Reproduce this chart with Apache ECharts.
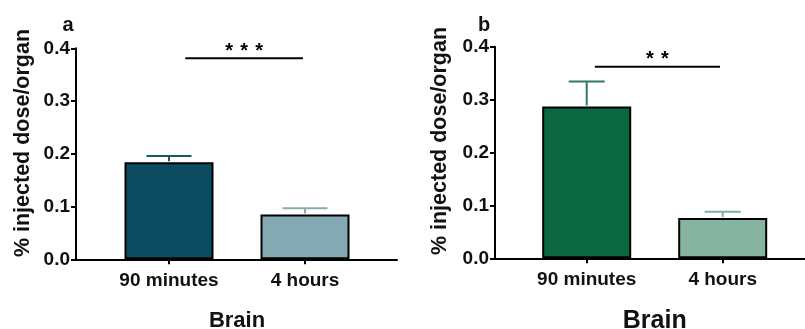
<!DOCTYPE html>
<html>
<head>
<meta charset="utf-8">
<script src="https://cdn.jsdelivr.net/npm/echarts@6/dist/echarts.min.js"></script>
<style>html,body{margin:0;padding:0;background:#fff}#c{width:805px;height:329px}</style>
</head>
<body>
<div id="c"></div>
<script>
// ---- data ----
const categories = ['90 minutes', '4 hours'];
const yTickMin = 0, yTickMax = 0.4, yTickStep = 0.1;
const meanA = [0.184, 0.085];
const semA = [0.012, 0.012];
const meanB = [0.287, 0.076];
const semB = [0.047, 0.012];
const sigSpanA = [0.12, 0.985];
const sigYA = 0.381;
const sigStarsA = 3;
const sigSpanB = [0.06, 0.98];
const sigYB = 0.362;
const sigStarsB = 2;
const yTitle = '% injected dose/organ';
const xTitle = 'Brain';
const panelLetters = ['a', 'b'];

// ---- styles ----
const FONT = '"Liberation Sans", Arial, Helvetica, sans-serif';
const barColorsA = ['#0c4c62', '#85a9b2'];
const errColorsA = ['#1b5967', '#8aaab3'];
const barColorsB = ['#0b6741', '#86b4a1'];
const errColorsB = ['#2c7b5f', '#7db09b'];

const layout = {
  a: {axisLeft: 76, axisWidth: 321, top: 48.3, height: 211, barLeft: 101, capW: 45, titleX: 23, titleY: 143, letterX: 68, xNameSize: 22, xNameGap: 51},
  b: {axisLeft: 495, axisWidth: 310, top: 46.7, height: 211.6, barLeft: 518.7, capW: 36, titleX: 440, titleY: 141, letterX: 484, xNameSize: 25, xNameGap: 50}
};

function errRender(colors, capW) {
  return function (params, api) {
    const i = api.value(0), m = api.value(1), e = api.value(2);
    const top = api.coord([i, m + e]);
    const base = api.coord([i, m]);
    const st = {stroke: colors[params.dataIndex], lineWidth: 2};
    return {type: 'group', children: [
      {type: 'line', shape: {x1: top[0], y1: base[1] - 1, x2: top[0], y2: top[1]}, style: st},
      {type: 'line', shape: {x1: top[0] - capW / 2, y1: top[1], x2: top[0] + capW / 2, y2: top[1]}, style: st}
    ]};
  };
}
function sigRender(span, yv, n) {
  return function (params, api) {
    const p0 = api.coord([0, yv]);
    const p1 = api.coord([1, yv]);
    const d = p1[0] - p0[0];
    const x0 = p0[0] + span[0] * d, x1 = p0[0] + span[1] * d;
    const mid = (x0 + x1) / 2;
    const children = [{type: 'line', shape: {x1: x0, y1: p0[1], x2: x1, y2: p0[1]}, style: {stroke: '#000', lineWidth: 2}}];
    const sp = 15;
    for (let k = 0; k < n; k++) {
      children.push({type: 'text', style: {text: '*', x: mid + (k - (n - 1) / 2) * sp, y: p0[1] - 7,
        fill: '#000', font: 'bold 20px ' + FONT, align: 'center', verticalAlign: 'middle'}});
    }
    return {type: 'group', children};
  };
}

const grids = [], xAxes = [], yAxes = [], series = [], graphics = [];
function addPanel(key, gi, means, sems, barColors, errColors, span, sy, stars) {
  const L = layout[key];
  grids.push({left: L.axisLeft, top: L.top, width: L.axisWidth, height: L.height, containLabel: false, outerBoundsMode: 'none'});
  grids.push({left: L.barLeft, top: L.top, width: 272, height: L.height, containLabel: false, outerBoundsMode: 'none'});
  const axisG = gi, barG = gi + 1;
  xAxes.push({gridIndex: axisG, type: 'value', min: 0, max: 1,
    axisLine: {show: true, onZero: false, lineStyle: {color: '#000', width: 2}},
    axisTick: {show: false}, axisLabel: {show: false}, splitLine: {show: false}});
  yAxes.push({gridIndex: axisG, type: 'value', min: yTickMin, max: yTickMax, interval: yTickStep,
    axisLine: {show: true, lineStyle: {color: '#000', width: 2}},
    axisTick: {show: true, length: 5, lineStyle: {color: '#000', width: 2}},
    axisLabel: {margin: 6, color: '#111', fontWeight: 'bold', fontSize: 19, fontFamily: FONT,
      formatter: v => v.toFixed(1)},
    splitLine: {show: false}});
  xAxes.push({gridIndex: barG, type: 'category', data: categories,
    axisLine: {show: false},
    axisTick: {show: true, alignWithLabel: true, length: 5, lineStyle: {color: '#000', width: 2}},
    axisLabel: {margin: 12, color: '#111', fontWeight: 'bold', fontSize: 19, fontFamily: FONT},
    name: xTitle, nameLocation: 'middle', nameGap: L.xNameGap,
    nameTextStyle: {color: '#111', fontWeight: 'bold', fontSize: L.xNameSize, fontFamily: FONT}});
  yAxes.push({gridIndex: barG, type: 'value', min: yTickMin, max: yTickMax, show: false});
  const xi = xAxes.length - 1, yi = yAxes.length - 1;
  series.push({type: 'bar', xAxisIndex: xi, yAxisIndex: yi, barWidth: 89,
    data: means.map((v, i) => ({value: v, itemStyle: {color: barColors[i], borderColor: '#000', borderWidth: 2}})),
    animation: false});
  series.push({type: 'custom', xAxisIndex: xi, yAxisIndex: yi, clip: false, z: 1,
    renderItem: errRender(errColors, L.capW),
    data: means.map((v, i) => [i, v, sems[i]]), animation: false});
  series.push({type: 'custom', xAxisIndex: xi, yAxisIndex: yi, clip: false,
    renderItem: sigRender(span, sy, stars), data: [[0, sy]], animation: false});
  graphics.push({type: 'text', x: L.titleX, y: L.titleY, rotation: Math.PI / 2,
    style: {text: yTitle, fill: '#111', font: 'bold 21.5px ' + FONT, align: 'center', verticalAlign: 'middle'}});
  graphics.push({type: 'text', x: L.letterX, y: 25,
    style: {text: panelLetters[key === 'a' ? 0 : 1], fill: '#111', font: 'bold 20px ' + FONT, align: 'center', verticalAlign: 'middle'}});
}
addPanel('a', 0, meanA, semA, barColorsA, errColorsA, sigSpanA, sigYA, sigStarsA);
addPanel('b', 2, meanB, semB, barColorsB, errColorsB, sigSpanB, sigYB, sigStarsB);

const chart = echarts.init(document.getElementById('c'), null, {renderer: 'canvas'});
chart.setOption({
  animation: false,
  backgroundColor: '#fff',
  grid: grids, xAxis: xAxes, yAxis: yAxes, series: series, graphic: graphics
});
</script>
</body>
</html>
